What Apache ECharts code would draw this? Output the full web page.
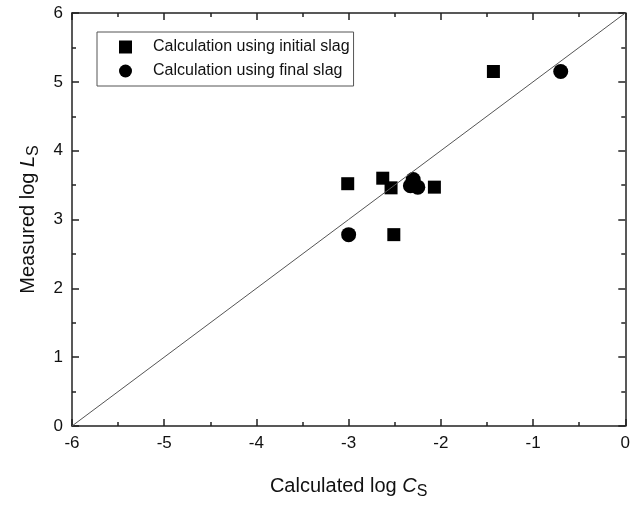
<!DOCTYPE html>
<html><head><meta charset="utf-8">
<script src="https://cdn.jsdelivr.net/npm/echarts@6/dist/echarts.min.js"></script>
<style>html,body{margin:0;padding:0;background:#fff}#c{width:633px;height:507px}</style>
</head><body><div id="c"></div>
<script>
const initialX = [-3.01, -2.63, -2.54, -2.51, -2.07, -1.43];
const initialY = [3.52, 3.60, 3.46, 2.78, 3.47, 5.15];
const finalX = [-3.00, -2.33, -2.30, -2.25, -0.70];
const finalY = [2.78, 3.49, 3.58, 3.47, 5.15];
const diagX = [-6, 0];
const diagY = [0, 6];
const xTicks = [-6, -5, -4, -3, -2, -1, 0];
const yTicks = [0, 1, 2, 3, 4, 5, 6];

const font = 'Liberation Sans, Arial, sans-serif';
const zip = (a, b) => a.map((v, i) => [v, b[i]]);
const chart = echarts.init(document.getElementById('c'));
const axisLine = {show: true, onZero: false, lineStyle: {color: '#222', width: 1.5}};
const tick = {inside: true, length: 7, lineStyle: {color: '#222', width: 1.5}};
const minor = {show: true, splitNumber: 2, length: 4, lineStyle: {color: '#222', width: 1.5}};
const rich = {
  a: {fontFamily: font, fontSize: 20, color: '#111'},
  i: {fontFamily: font, fontSize: 20, fontStyle: 'italic', color: '#111'},
  s: {fontFamily: font, fontSize: 16, color: '#111', verticalAlign: 'bottom', padding: [12, 0, 0, 0]}
};
chart.setOption({
  animation: false,
  grid: {left: 72, right: 2, top: 13, bottom: 81},
  legend: {
    orient: 'vertical', left: 97, top: 32,
    padding: [7, 4, 7, 22], itemGap: 8,
    borderColor: '#555', borderWidth: 1, itemWidth: 13, itemHeight: 13,
    textStyle: {fontFamily: font, fontSize: 16, color: '#111', padding: [0, 0, 0, 16]},
    data: [{name: 'Calculation using initial slag', icon: 'rect'},
           {name: 'Calculation using final slag', icon: 'circle'}]
  },
  xAxis: [{
    type: 'value', min: -6, max: 0, interval: 1, position: 'bottom',
    axisLine, splitLine: {show: false}, axisTick: tick, minorTick: minor,
    axisLabel: {fontFamily: font, fontSize: 17, color: '#111', margin: 9,
      formatter: v => xTicks.includes(v) ? String(v) : ''},
    name: '{a|Calculated log }{i|C}{s|S}', nameLocation: 'middle', nameGap: 46,
    nameTextStyle: {rich}
  }, {
    type: 'value', min: -6, max: 0, interval: 1, position: 'top',
    axisLine, splitLine: {show: false}, axisLabel: {show: false},
    axisTick: tick, minorTick: minor
  }],
  yAxis: [{
    type: 'value', min: 0, max: 6, interval: 1, position: 'left',
    axisLine, splitLine: {show: false}, axisTick: tick, minorTick: minor,
    axisLabel: {fontFamily: font, fontSize: 17, color: '#111', margin: 9,
      formatter: v => yTicks.includes(v) ? String(v) : ''},
    name: '{a|Measured log }{i|L}{s|S}', nameLocation: 'middle', nameGap: 30,
    nameTextStyle: {rich}
  }, {
    type: 'value', min: 0, max: 6, interval: 1, position: 'right',
    axisLine, splitLine: {show: false}, axisLabel: {show: false},
    axisTick: tick, minorTick: minor
  }],
  series: [{
    type: 'line', data: zip(diagX, diagY), symbol: 'none', silent: true,
    lineStyle: {color: '#555', width: 1}
  }, {
    name: 'Calculation using initial slag', type: 'scatter', data: zip(initialX, initialY),
    symbol: 'rect', symbolSize: 13, itemStyle: {color: '#000', opacity: 1}
  }, {
    name: 'Calculation using final slag', type: 'scatter', data: zip(finalX, finalY),
    symbol: 'circle', symbolSize: 15, itemStyle: {color: '#000', opacity: 1}
  }]
});
</script></body></html>
